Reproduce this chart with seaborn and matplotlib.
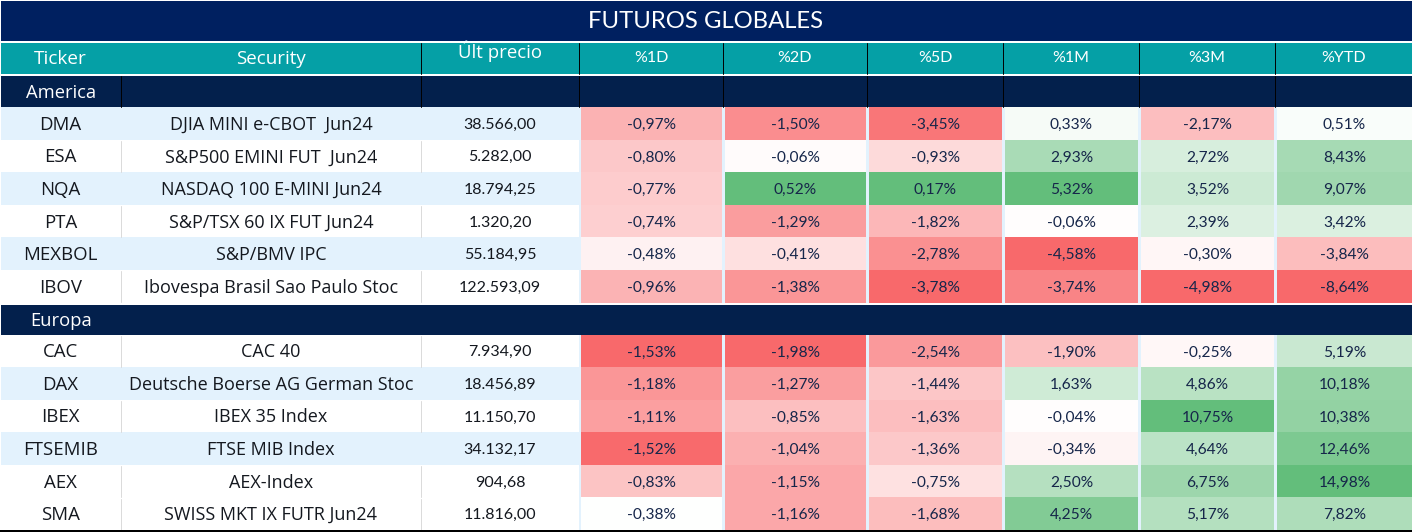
import matplotlib
matplotlib.use("Agg")
import matplotlib.pyplot as plt
from matplotlib.colors import LinearSegmentedColormap, TwoSlopeNorm
from matplotlib.patches import Rectangle
import numpy as np
import seaborn as sns

sns.set_theme(style="white")
FONT = "Lato"
WIDE = "Open Sans"
plt.rcParams["font.family"] = [FONT, "DejaVu Sans"]

title = "FUTUROS GLOBALES"
headers = ["Ticker", "Security", "Últ precio", "%1D", "%2D", "%5D", "%1M", "%3M", "%YTD"]
sections = ["America", "Europa"]

tickers_am = ["DMA", "ESA", "NQA", "PTA", "MEXBOL", "IBOV"]
security_am = ["DJIA MINI e-CBOT  Jun24", "S&P500 EMINI FUT  Jun24", "NASDAQ 100 E-MINI Jun24",
               "S&P/TSX 60 IX FUT Jun24", "S&P/BMV IPC", "Ibovespa Brasil Sao Paulo Stoc"]
price_am = ["38.566,00", "5.282,00", "18.794,25", "1.320,20", "55.184,95", "122.593,09"]

tickers_eu = ["CAC", "DAX", "IBEX", "FTSEMIB", "AEX", "SMA"]
security_eu = ["CAC 40", "Deutsche Boerse AG German Stoc", "IBEX 35 Index", "FTSE MIB Index",
               "AEX-Index", "SWISS MKT IX FUTR Jun24"]
price_eu = ["7.934,90", "18.456,89", "11.150,70", "34.132,17", "904,68", "11.816,00"]

d1_am = [-0.97, -0.80, -0.77, -0.74, -0.48, -0.96]
d2_am = [-1.50, -0.06, 0.52, -1.29, -0.41, -1.38]
d5_am = [-3.45, -0.93, 0.17, -1.82, -2.78, -3.78]
m1_am = [0.33, 2.93, 5.32, -0.06, -4.58, -3.74]
m3_am = [-2.17, 2.72, 3.52, 2.39, -0.30, -4.98]
ytd_am = [0.51, 8.43, 9.07, 3.42, -3.84, -8.64]

d1_eu = [-1.53, -1.18, -1.11, -1.52, -0.83, -0.38]
d2_eu = [-1.98, -1.27, -0.85, -1.04, -1.15, -1.16]
d5_eu = [-2.54, -1.44, -1.63, -1.36, -0.75, -1.68]
m1_eu = [-1.90, 1.63, -0.04, -0.34, 2.50, 4.25]
m3_eu = [-0.25, 4.86, 10.75, 4.64, 6.75, 5.17]
ytd_eu = [5.19, 10.18, 10.38, 12.46, 14.98, 7.82]

cols_am = [d1_am, d2_am, d5_am, m1_am, m3_am, ytd_am]
cols_eu = [d1_eu, d2_eu, d5_eu, m1_eu, m3_eu, ytd_eu]

W, H = 1412, 532
NAVY, BAND, TEAL = "#002060", "#03204C", "#05A0A6"
STRIPE, TXT, PCT = "#E3F2FD", "#14181F", "#16264A"
cmap = LinearSegmentedColormap.from_list("rwg", ["#F8696B", "#FFFFFF", "#63BE7B"])

edges = [0, 121, 421, 579, 723, 867, 1003, 1139, 1275, 1412]
blocks = [(107, 302.5), (334.5, 530)]
band_spans = [(76, 107), (304.5, 334.5)]

fig = plt.figure(figsize=(W / 100, H / 100), dpi=100, facecolor="white")
bg = fig.add_axes([0, 0, 1, 1])
bg.set_xlim(0, W)
bg.set_ylim(H, 0)
bg.axis("off")


def rect(x0, y0, x1, y1, c, z=1):
    bg.add_patch(Rectangle((x0, y0), x1 - x0, y1 - y0, fc=c, ec="none", zorder=z))


rect(1, 1, W, 41, NAVY)
bg.text(706, 21, title, color="white", fontsize=17.2, ha="center", va="center", zorder=5)

rect(1, 43, W, 74, TEAL)
header_sizes = [13.7, 13.5, 13.4, 11.5, 11.5, 11.5, 11.5, 11.5, 11.5]
for i, h in enumerate(headers):
    cx = (edges[i] + edges[i + 1]) / 2
    y = 51.5 if h.startswith("Últ") else 58.5
    fam = [WIDE, "DejaVu Sans"] if i < 3 else [FONT, "DejaVu Sans"]
    bg.text(cx, y, h, color="white", fontsize=header_sizes[i], family=fam,
            ha="center", va="center", zorder=5)
for x in edges[2:-1]:
    bg.plot([x, x], [43, 74], color="black", lw=0.7, zorder=4)

for k, (y0, y1) in enumerate(band_spans):
    rect(1, y0, W, y1, BAND)
    bg.text(61, (y0 + y1) / 2 + 1, sections[k], color="white", fontsize=13.2,
            family=[WIDE, "DejaVu Sans"], ha="center", va="center", zorder=5)
for x in edges[1:-1]:
    bg.plot([x, x], [76, 107], color="black", lw=0.7, zorder=4)

stripes = [[True, False, True, False, True, False], [False, True, False, True, False, False]]
left_text = [(tickers_am, security_am, price_am), (tickers_eu, security_eu, price_eu)]
left_size = [13.4, 13, 11.5]
left_fam = [WIDE, WIDE, FONT]
left_dy = [1.5, 1.5, 1.5]
for b, (top, bottom) in enumerate(blocks):
    rh = (bottom - top) / 6
    # gap colour between the heat columns
    rect(edges[3], top, W, bottom, STRIPE)
    for r in range(6):
        yt, yb = top + r * rh, top + (r + 1) * rh
        if stripes[b][r]:
            rect(1, yt, edges[3], yb, STRIPE)
        else:
            for x in edges[1:3]:
                bg.plot([x, x], [yt + 1.5, yb - 0.5], color="#DADADA", lw=0.7, zorder=2)
        for c in range(3):
            cx = (edges[c] + edges[c + 1]) / 2
            bg.text(cx, (yt + yb) / 2 + left_dy[c], left_text[b][c][r], color=TXT,
                    fontsize=left_size[c], family=[left_fam[c], "DejaVu Sans"],
                    ha="center", va="center", zorder=5)

rect(0, 530, W, 532, "#000000", 6)

# One heat map per column and block, coloured on a per-column scale
for c in range(6):
    allv = np.array(cols_am[c] + cols_eu[c])
    vmin, vmax = allv.min(), allv.max()
    center = 0.0 if vmax > 0 else vmax
    norm = TwoSlopeNorm(vmin=vmin, vcenter=center, vmax=max(vmax, center + 0.01))
    x0 = edges[c + 3] + 2
    x1 = edges[c + 4] - 1 if c < 5 else W
    for b, vals in enumerate([cols_am[c], cols_eu[c]]):
        top, bottom = blocks[b]
        ax = fig.add_axes([x0 / W, 1 - bottom / H, (x1 - x0) / W, (bottom - top) / H])
        arr = np.array(vals).reshape(-1, 1)
        labels = np.array([f"{v:.2f}%".replace(".", ",") for v in vals]).reshape(-1, 1)
        sns.heatmap(arr, ax=ax, cmap=cmap, norm=norm, annot=labels, fmt="", cbar=False,
                    xticklabels=False, yticklabels=False, linewidths=0,
                    annot_kws={"color": PCT, "fontsize": 11.2, "family": [FONT, "DejaVu Sans"]})
        for t in ax.texts:
            t.set_y(t.get_position()[1] + 0.05)
        ax.set_xlabel("")
        ax.set_ylabel("")

fig.savefig("out.png", dpi=100, facecolor="white")
